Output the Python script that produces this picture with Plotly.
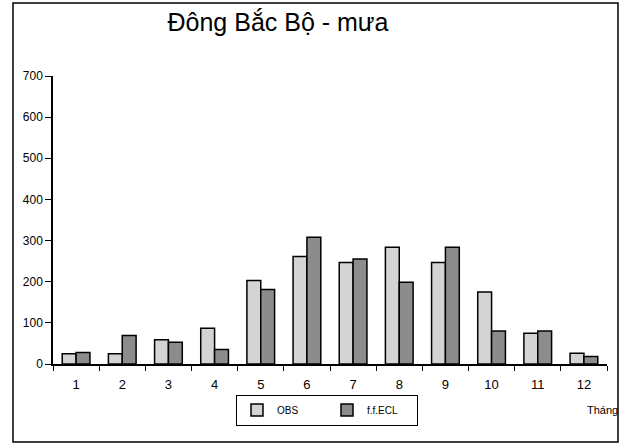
import plotly.graph_objects as go

months = ["1", "2", "3", "4", "5", "6", "7", "8", "9", "10", "11", "12"]
obs = [25, 25, 59, 87, 203, 261, 247, 284, 247, 175, 75, 26]
ecl = [28, 69, 53, 35, 181, 308, 255, 199, 284, 80, 80, 18]
y_ticks = [0, 100, 200, 300, 400, 500, 600, 700]

W, H = 621, 444
L, R, T, B = 53, 14, 76, 80
pw = W - L - R
ph = H - T - B

def px_x(p):
    return (p - L) / pw

def px_y(p):
    return (H - B - p) / ph

fig = go.Figure()
fig.add_trace(go.Bar(x=months, y=obs, name="OBS",
                     marker=dict(color="#d4d4d4", line=dict(color="black", width=1.5))))
fig.add_trace(go.Bar(x=months, y=ecl, name="f.f.ECL",
                     marker=dict(color="#8c8c8c", line=dict(color="black", width=1.5))))

fig.update_layout(
    width=W, height=H,
    margin=dict(l=L, r=R, t=T, b=B),
    paper_bgcolor="white", plot_bgcolor="white",
    barmode="group", bargap=0.4, bargroupgap=0,
    font=dict(family="Liberation Sans, Arial", color="black"),
    title=dict(text="Đông Bắc Bộ - mưa", x=px_x(278), xanchor="center",
               xref="paper", y=1 - 22 / H, yanchor="middle",
               font=dict(size=25, color="black")),
    showlegend=True,
    legend=dict(orientation="h", x=px_x(327), xanchor="center",
                y=px_y(410), yanchor="middle",
                bordercolor="black", borderwidth=1, bgcolor="white",
                font=dict(size=10), itemwidth=30, entrywidth=45,
                tracegroupgap=0),
    xaxis=dict(type="category", showline=True, linecolor="black", linewidth=1.5,
               ticks="outside", tickson="boundaries", ticklen=5, tickcolor="black",
               tickfont=dict(size=13), ticklabelstandoff=8,
               showgrid=False, range=[-0.5, 11.5]),
    yaxis=dict(range=[0, 700], tickvals=y_ticks, showline=True, linecolor="black",
               linewidth=1.5, ticks="outside", ticklen=6, tickcolor="black",
               tickfont=dict(size=12), showgrid=False, zeroline=False),
)

fig.add_shape(type="rect", xref="paper", yref="paper",
              x0=px_x(13), x1=px_x(618), y0=px_y(442), y1=px_y(3),
              line=dict(color="black", width=1.5), fillcolor="rgba(0,0,0,0)",
              layer="below")

fig.add_annotation(text="Tháng", xref="paper", yref="paper",
                   x=px_x(585), y=px_y(410), xanchor="left", yanchor="middle",
                   showarrow=False, font=dict(size=11, color="black"))

fig.write_html("out.html")
